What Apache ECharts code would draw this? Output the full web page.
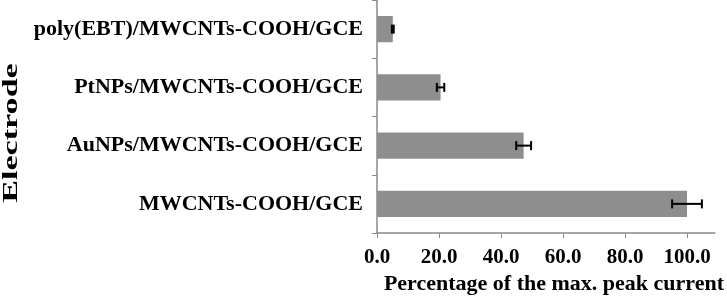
<!DOCTYPE html>
<html>
<head>
<meta charset="utf-8">
<script src="https://cdn.jsdelivr.net/npm/echarts@6/dist/echarts.min.js"></script>
<style>html,body{margin:0;padding:0;background:#fff;}#c{width:727px;height:303px;}</style>
</head>
<body>
<div id="c"></div>
<script>
const categories = ['MWCNTs-COOH/GCE', 'AuNPs/MWCNTs-COOH/GCE', 'PtNPs/MWCNTs-COOH/GCE', 'poly(EBT)/MWCNTs-COOH/GCE'];
const values = [100.0, 47.3, 20.5, 5.1];
const errors = [4.8, 2.4, 1.2, 0.3];
const xTicks = [0, 20, 40, 60, 80, 100];
const xAxisTitle = 'Percentage of the max. peak current';
const yAxisTitle = 'Electrode';

const errData = values.map((v, i) => [i, v - errors[i], v + errors[i]]);
const FONT = '"Liberation Serif", "Times New Roman", serif';

const chart = echarts.init(document.getElementById('c'), null, {renderer: 'canvas'});
chart.setOption({
  animation: false,
  backgroundColor: '#fff',
  grid: {left: 377, right: 11, top: 0, bottom: 70, containLabel: false},
  xAxis: {
    type: 'value', min: 0, max: 109,
    name: xAxisTitle, nameLocation: 'middle', nameGap: 40,
    nameTextStyle: {fontFamily: FONT, fontWeight: 'bold', fontSize: 22, color: '#000', padding: [0, 0, 0, 16]},
    axisLine: {show: true, lineStyle: {color: '#8a8a8a', width: 1.5}},
    axisTick: {show: true, length: 5, lineStyle: {color: '#8a8a8a'}, customValues: xTicks},
    axisLabel: {fontFamily: FONT, fontWeight: 'bold', fontSize: 21, color: '#000', margin: 14,
      customValues: xTicks, formatter: v => Number(v).toFixed(1)},
    splitLine: {show: false}
  },
  yAxis: {
    type: 'category', data: categories,
    axisLine: {show: true, lineStyle: {color: '#8a8a8a', width: 1.5}},
    axisTick: {show: true, length: 5, lineStyle: {color: '#8a8a8a'}},
    axisLabel: {fontFamily: FONT, fontWeight: 'bold', fontSize: 22, color: '#000', margin: 14},
    splitLine: {show: false}
  },
  graphic: [{
    type: 'text', x: 11, y: 133, rotation: Math.PI / 2, scaleX: 1.55,
    style: {text: yAxisTitle, font: 'bold 22px ' + FONT, fill: '#000', textAlign: 'center', textVerticalAlign: 'middle'}
  }],
  series: [
    {
      type: 'bar', data: values, barWidth: '45%',
      itemStyle: {color: '#8e8e8e'}
    },
    {
      type: 'custom', data: errData, z: 5,
      renderItem: function (params, api) {
        const idx = api.value(0);
        const lo = api.coord([api.value(1), idx]);
        const hi = api.coord([api.value(2), idx]);
        const h = 4.5;
        const s = {stroke: '#000', lineWidth: 2};
        return {type: 'group', children: [
          {type: 'line', shape: {x1: lo[0], y1: lo[1], x2: hi[0], y2: hi[1]}, style: s},
          {type: 'line', shape: {x1: lo[0], y1: lo[1] - h, x2: lo[0], y2: lo[1] + h}, style: s},
          {type: 'line', shape: {x1: hi[0], y1: hi[1] - h, x2: hi[0], y2: hi[1] + h}, style: s}
        ]};
      }
    }
  ]
});
</script>
</body>
</html>
